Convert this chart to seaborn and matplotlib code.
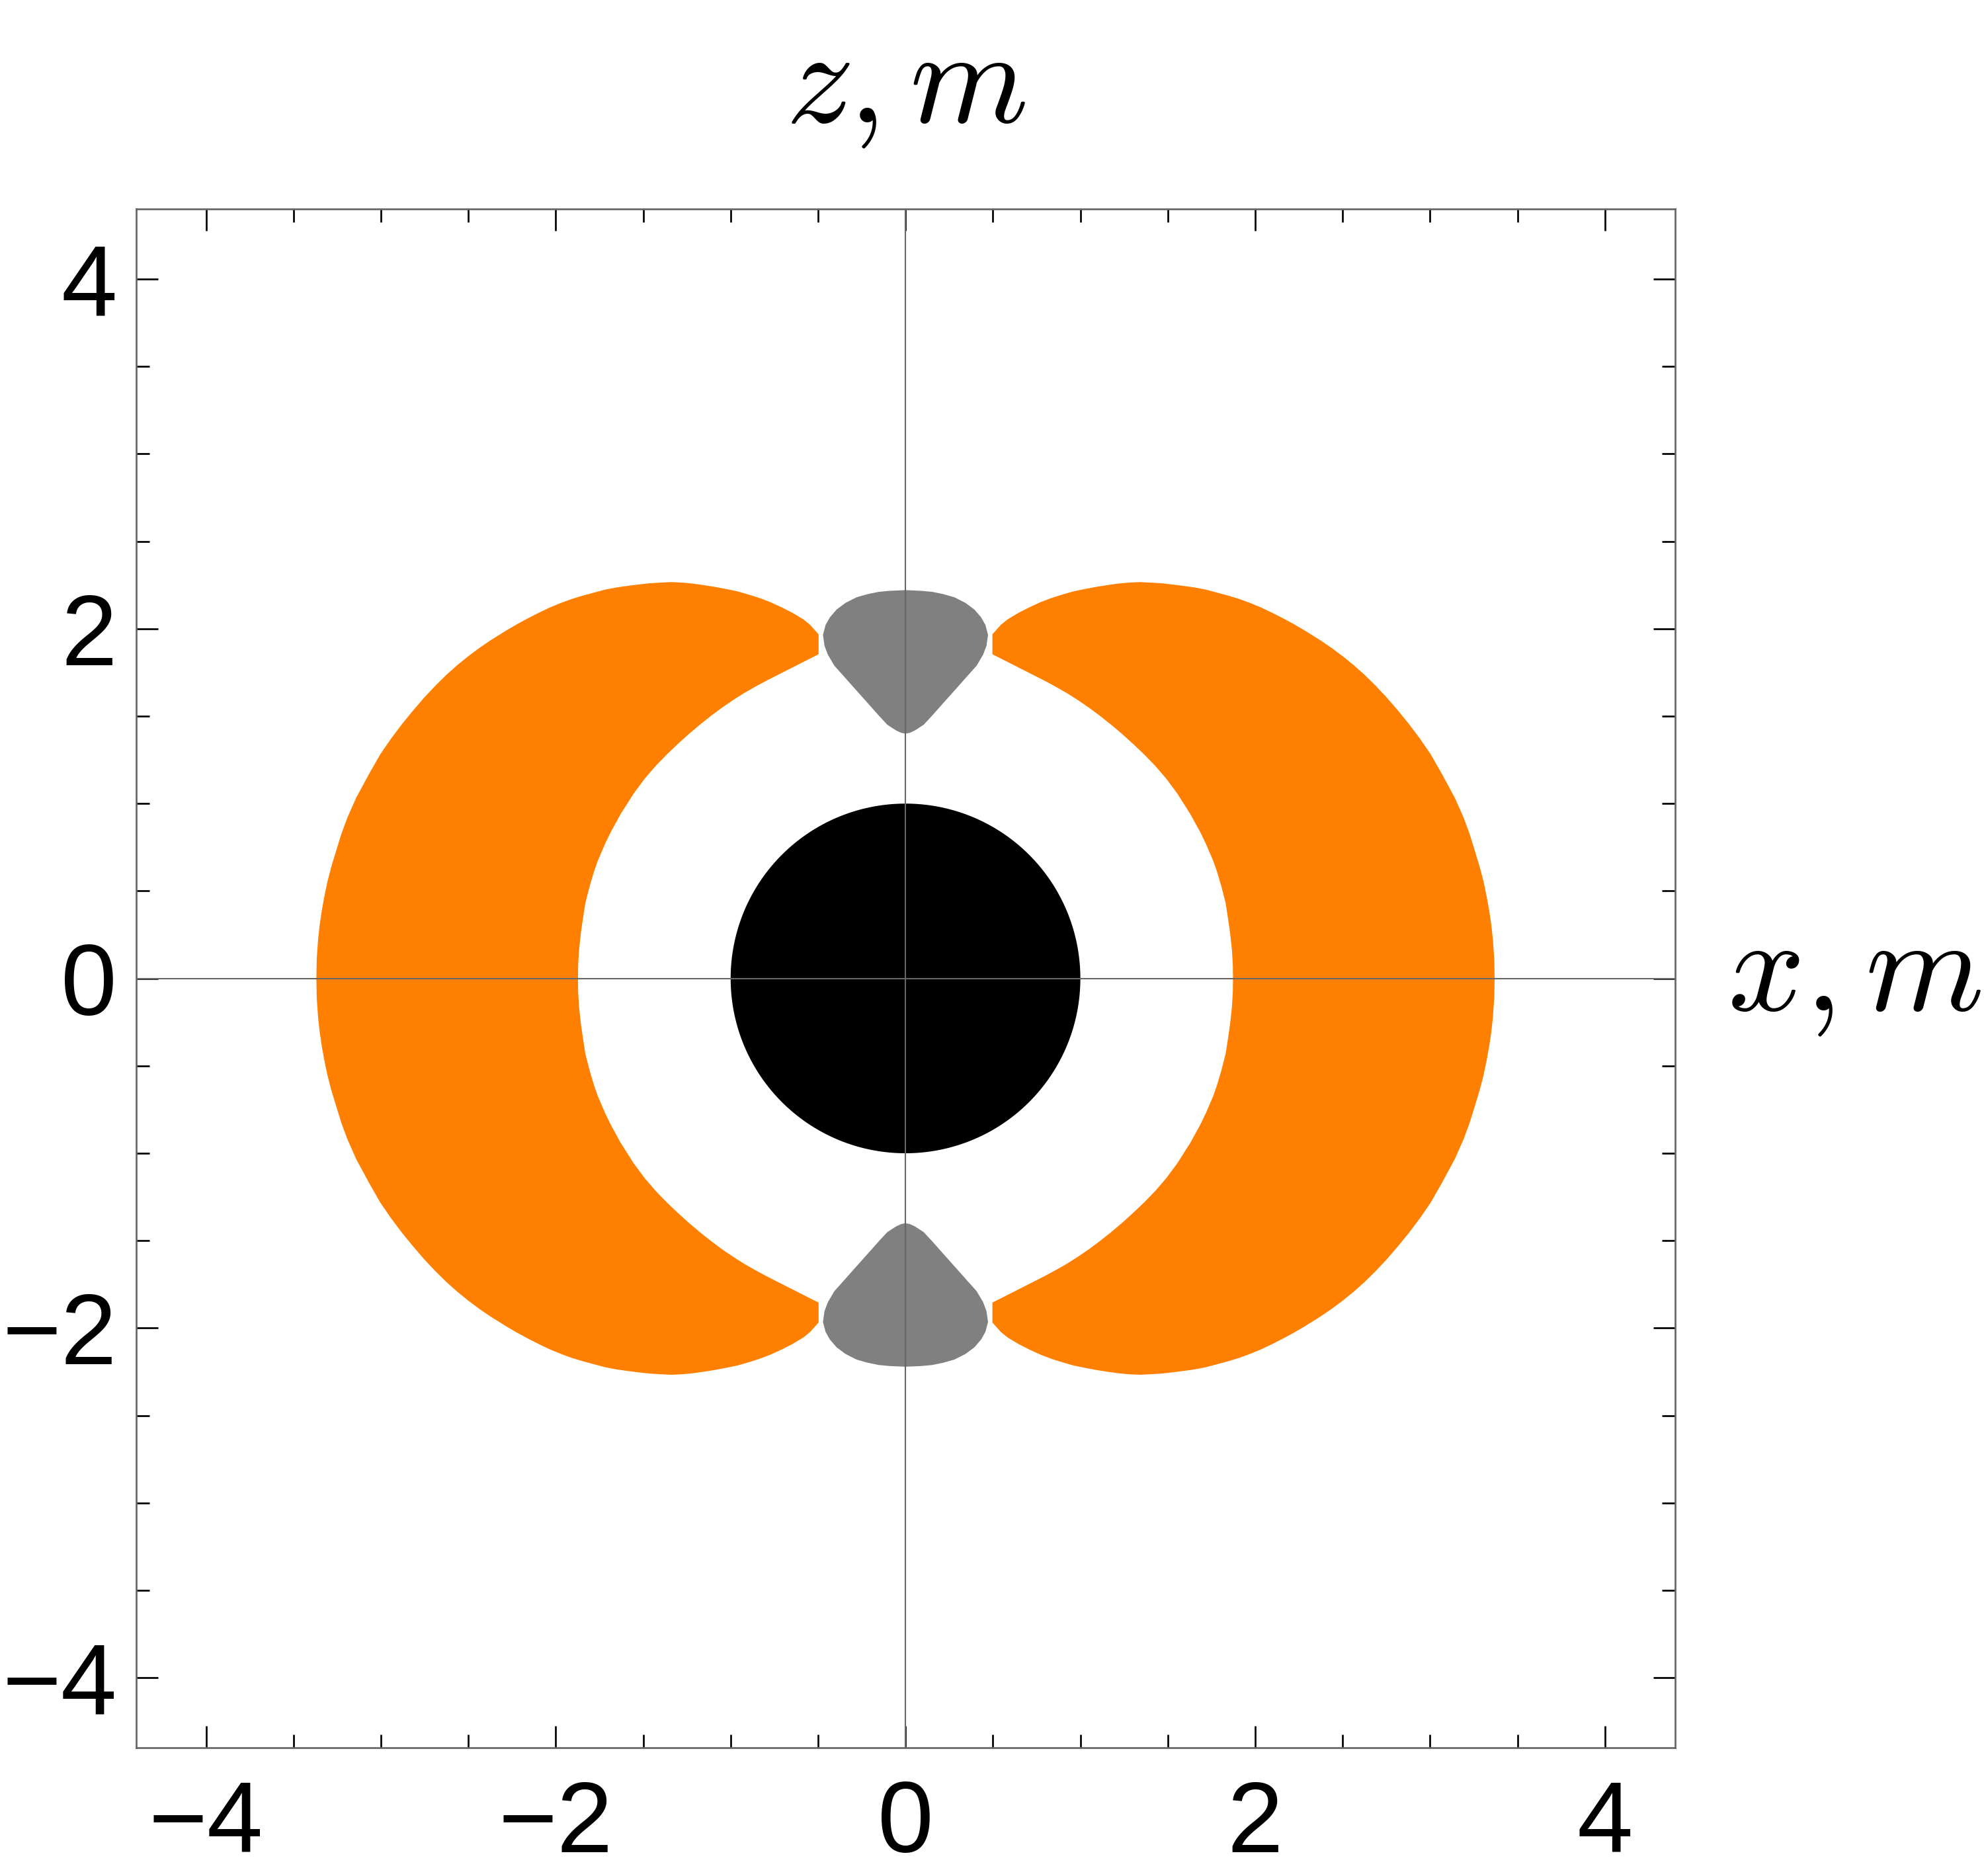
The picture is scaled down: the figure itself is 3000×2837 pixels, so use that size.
import numpy as np
import matplotlib
matplotlib.use("Agg")
import matplotlib.pyplot as plt
from matplotlib.ticker import MultipleLocator, FixedLocator
import seaborn as sns

# 区域边界（从图上读出的上半平面右侧轮廓，其余部分按对称得到）
orange_outer_x = [0.497, 0.545, 0.583, 0.646, 0.709, 0.772, 0.835, 0.898, 0.961, 1.024,
                  1.087, 1.150, 1.213, 1.276, 1.339, 1.402, 1.466, 1.528, 1.592, 1.655,
                  1.717, 1.781, 1.844, 1.907, 1.970, 2.033, 2.096, 2.159, 2.222, 2.285,
                  2.373, 2.436, 2.499, 2.562, 2.625, 2.688, 2.751, 2.814, 2.877,
                  2.941, 3.003, 3.067, 3.142, 3.192, 3.225, 3.256, 3.283, 3.306,
                  3.323, 3.338, 3.350, 3.359, 3.367, 3.369]
orange_outer_z = [1.968, 2.022, 2.053, 2.091, 2.123, 2.152, 2.176, 2.196, 2.214, 2.227,
                  2.239, 2.249, 2.258, 2.264, 2.267, 2.264, 2.260, 2.253, 2.245, 2.236,
                  2.224, 2.207, 2.190, 2.171, 2.148, 2.122, 2.092, 2.060, 2.026, 1.989,
                  1.934, 1.891, 1.844, 1.793, 1.737, 1.675, 1.608, 1.535, 1.458,
                  1.373, 1.283, 1.171, 1.032, 0.919, 0.830, 0.730, 0.641, 0.553,
                  0.471, 0.389, 0.307, 0.225, 0.112, 0.0]
orange_inner_x = [0.497, 0.545, 0.608, 0.671, 0.734, 0.797, 0.860, 0.923, 0.986, 1.049,
                  1.112, 1.175, 1.239, 1.302, 1.365, 1.428, 1.491, 1.554, 1.629, 1.686,
                  1.718, 1.760, 1.781, 1.806, 1.831, 1.845, 1.856, 1.867, 1.872, 1.873]
orange_inner_z = [1.854, 1.830, 1.798, 1.766, 1.734, 1.702, 1.668, 1.632, 1.592, 1.549,
                  1.502, 1.452, 1.398, 1.341, 1.281, 1.216, 1.143, 1.058, 0.940, 0.836,
                  0.770, 0.672, 0.612, 0.528, 0.430, 0.339, 0.263, 0.162, 0.074, 0.0]
gray_x = [0.0, 0.091, 0.154, 0.217, 0.280, 0.343, 0.394, 0.432, 0.457, 0.472, 0.463,
          0.444, 0.407, 0.356, 0.293, 0.217, 0.154, 0.104, 0.053, 0.025, 0.0]
gray_z = [2.221, 2.217, 2.211, 2.198, 2.180, 2.148, 2.110, 2.066, 2.022, 1.965, 1.902,
          1.852, 1.789, 1.732, 1.661, 1.576, 1.505, 1.451, 1.418, 1.405, 1.400]
horizon_r = 1.0

major_ticks = [-4, -2, 0, 2, 4]
lim = 4.4

ORANGE = "#FF8000"
GRAY = "#808080"
FRAME = "#666666"

sns.set_theme(style="white")
plt.rcParams["font.family"] = ["Liberation Sans", "DejaVu Sans"]
plt.rcParams["mathtext.fontset"] = "cm"
plt.rcParams["text.color"] = "black"

fig = plt.figure(figsize=(10, 2837 / 300), dpi=300)
ax = fig.add_axes([0.0686, 0.0684, 0.7756, 0.8201])

# 橙色月牙：外边界 -> 下半外边界 -> 下半内边界 -> 上半内边界
ox, oz = np.array(orange_outer_x), np.array(orange_outer_z)
ix, iz = np.array(orange_inner_x), np.array(orange_inner_z)
crescent_x = np.concatenate([ox, ox[::-1], ix, ix[::-1]])
crescent_z = np.concatenate([oz, -oz[::-1], -iz, iz[::-1]])
for s in (1, -1):
    ax.fill(s * crescent_x, crescent_z, color=ORANGE, lw=0, zorder=2)

# 灰色区域（上下两块）
gx, gz = np.array(gray_x), np.array(gray_z)
lobe_x = np.concatenate([gx, -gx[::-1]])
lobe_z = np.concatenate([gz, gz[::-1]])
for s in (1, -1):
    ax.fill(lobe_x, s * lobe_z, color=GRAY, lw=0, zorder=2)

# 黑洞
t = np.linspace(0, 2 * np.pi, 400)
ax.fill(horizon_r * np.cos(t), horizon_r * np.sin(t), color="black", lw=0, zorder=2)

# 坐标轴线
ax.axhline(0, color=FRAME, lw=0.5, zorder=3)
ax.axvline(0, color=FRAME, lw=0.5, zorder=3)

ax.set_xlim(-lim, lim)
ax.set_ylim(-lim, lim)
for axis in (ax.xaxis, ax.yaxis):
    axis.set_major_locator(FixedLocator(major_ticks))
    axis.set_minor_locator(MultipleLocator(0.5))
ax.tick_params(which="both", direction="in", top=True, right=True, bottom=True, left=True,
               color="black", width=0.65, labelsize=36.5, labelcolor="black")
ax.tick_params(which="major", length=7.9)
ax.tick_params(which="minor", length=4.8)
ax.tick_params(axis="x", pad=11.5)
ax.tick_params(axis="y", pad=7)
for sp in ax.spines.values():
    sp.set_visible(True)
    sp.set_color(FRAME)
    sp.set_linewidth(0.65)
ax.grid(False)

ax.text(0, 4.896, r"$z,m$", fontsize=49, color="black",
        ha="center", va="baseline", clip_on=False)
ax.text(4.70, -0.183, r"$x,m$", fontsize=49, color="black",
        ha="left", va="baseline", clip_on=False)

fig.savefig("out.png", dpi=300, facecolor="white")
